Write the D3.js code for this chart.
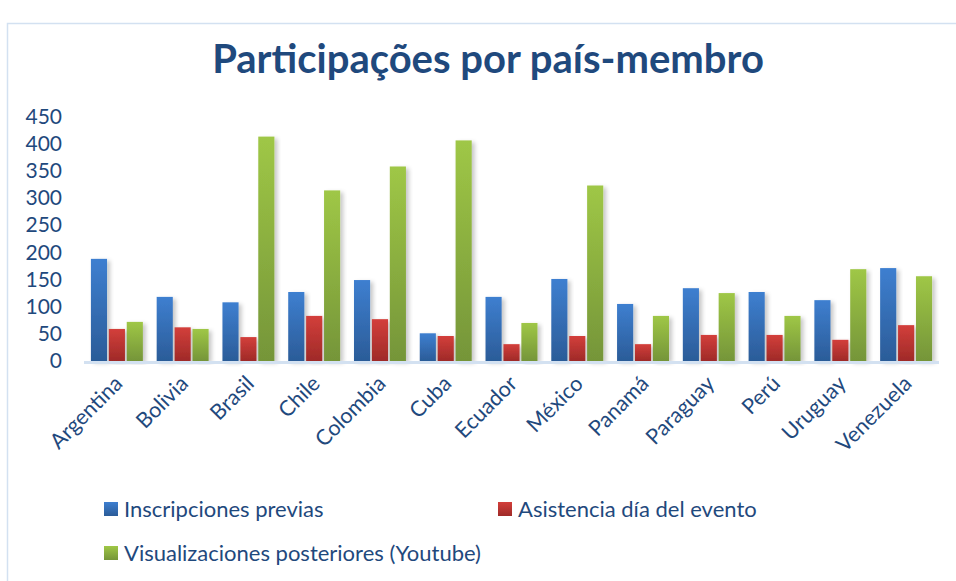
<!DOCTYPE html>
<html>
<head>
<meta charset="utf-8">
<script src="https://cdn.jsdelivr.net/npm/d3@7"></script>
<style>
  body { margin: 0; background: #fff; }
  svg { display: block; font-family: Lato, "Open Sans", sans-serif; }
</style>
</head>
<body>
<svg id="chart" width="956" height="581"></svg>
<script>
// Data
const countries = ["Argentina", "Bolivia", "Brasil", "Chile", "Colombia", "Cuba", "Ecuador",
  "México", "Panamá", "Paraguay", "Perú", "Uruguay", "Venezuela"];
const inscripciones = [188, 118, 108, 127, 149, 51, 118, 151, 105, 134, 127, 112, 171];
const asistencia = [59, 62, 44, 83, 77, 46, 31, 46, 31, 48, 48, 39, 66];
const visualizaciones = [72, 59, 413, 314, 358, 406, 70, 323, 83, 125, 83, 169, 156];
const seriesNames = ["Inscripciones previas", "Asistencia día del evento", "Visualizaciones posteriores (Youtube)"];
const yTicks = [0, 50, 100, 150, 200, 250, 300, 350, 400, 450];

const textColor = "#1f497d";
const svg = d3.select("#chart");

// gradients for the bars
const defs = svg.append("defs");
const grads = [
  { id: "gBlue", top: "#3e7fd0", bottom: "#2b5c98" },
  { id: "gRed", top: "#d33f3b", bottom: "#9f2a28" },
  { id: "gGreen", top: "#9fc746", bottom: "#759539" }
];
grads.forEach(g => {
  const lg = defs.append("linearGradient").attr("id", g.id)
    .attr("x1", 0).attr("y1", 0).attr("x2", 0).attr("y2", 1);
  lg.append("stop").attr("offset", "0%").attr("stop-color", g.top);
  lg.append("stop").attr("offset", "100%").attr("stop-color", g.bottom);
});
const shadow = defs.append("filter").attr("id", "shadow")
  .attr("x", "-20%").attr("y", "-5%").attr("width", "160%").attr("height", "115%");
shadow.append("feDropShadow").attr("dx", 3).attr("dy", 2).attr("stdDeviation", 2)
  .attr("flood-color", "#000").attr("flood-opacity", 0.22);

// chart frame
svg.append("rect").attr("x", 7.5).attr("y", 23.5).attr("width", 960).attr("height", 600)
  .attr("fill", "none").attr("stroke", "#d3e1f1").attr("stroke-width", 1.5);

// title
svg.append("text").attr("x", 488).attr("y", 73).attr("text-anchor", "middle")
  .attr("font-size", 40).attr("font-weight", "bold").attr("fill", textColor)
  .text("Participações por país-membro");

// scales
const x = d3.scaleBand().domain(countries).range([84, 939]).paddingInner(0.21).paddingOuter(0.105);
const y = d3.scaleLinear().domain([0, 450]).range([361, 116.5]);
const xs = d3.scaleBand().domain([0, 1, 2]).range([0, x.bandwidth()]).paddingInner(0.1);

// y axis
const yAxis = svg.append("g").attr("transform", "translate(62,0)")
  .call(d3.axisLeft(y).tickValues(yTicks).tickSize(0).tickPadding(0));
yAxis.select(".domain").remove();
yAxis.selectAll("text").attr("font-size", 21).attr("fill", textColor)
  .attr("font-family", "Lato, sans-serif");

// bars
const seriesData = [inscripciones, asistencia, visualizaciones];
seriesData.forEach((vals, si) => {
  svg.append("g").selectAll("rect")
    .data(vals)
    .enter()
    .append("rect")
    .attr("x", (d, i) => x(countries[i]) + xs(si))
    .attr("y", d => y(d))
    .attr("width", xs.bandwidth())
    .attr("height", d => y(0) - y(d))
    .attr("fill", "url(#" + grads[si].id + ")")
    .attr("filter", "url(#shadow)");
});

// baseline
svg.append("line").attr("x1", 84).attr("x2", 939).attr("y1", y(0) + 1.5).attr("y2", y(0) + 1.5)
  .attr("stroke", "#d3e1f1").attr("stroke-width", 3);

// x labels
const xAxis = svg.append("g").attr("transform", "translate(0," + (y(0) + 4) + ")")
  .call(d3.axisBottom(x).tickSize(0).tickPadding(0));
xAxis.select(".domain").remove();
xAxis.selectAll("text")
  .attr("font-size", 21.5).attr("fill", textColor).attr("font-family", "Lato, sans-serif")
  .attr("text-anchor", "end")
  .attr("dy", "0")
  .attr("transform", "translate(7,20) rotate(-45)");

// legend
const legendItems = [
  { x: 104, y: 509 },
  { x: 498, y: 509 },
  { x: 104, y: 553 }
];
legendItems.forEach((p, i) => {
  svg.append("rect").attr("x", p.x).attr("y", p.y - 7).attr("width", 14).attr("height", 14)
    .attr("fill", "url(#" + grads[i].id + ")");
  svg.append("text").attr("x", p.x + 20).attr("y", p.y + 8)
    .attr("font-size", 22).attr("fill", textColor).text(seriesNames[i]);
});
</script>
</body>
</html>
